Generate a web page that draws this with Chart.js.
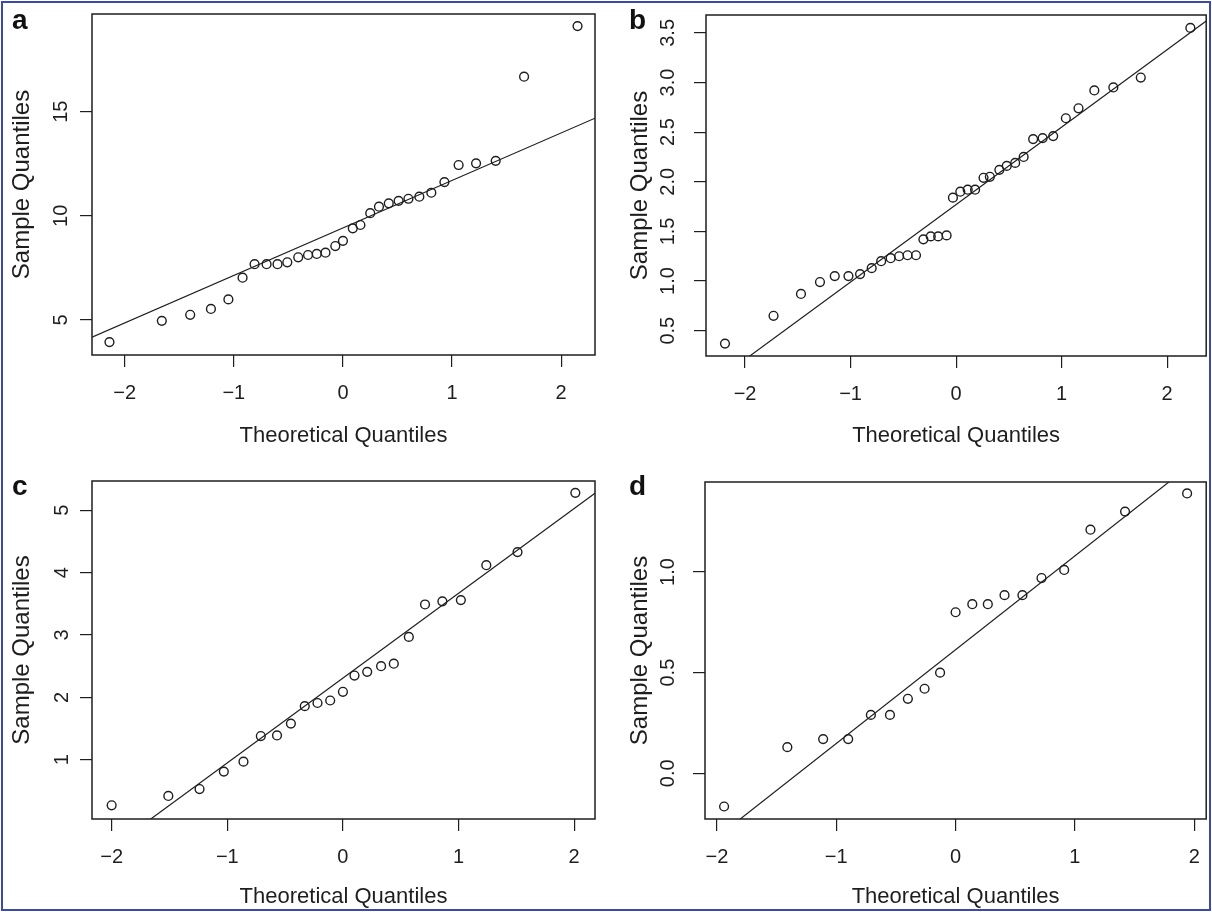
<!DOCTYPE html>
<html>
<head>
<meta charset="utf-8">
<script src="https://cdn.jsdelivr.net/npm/chart.js@4.4.0/dist/chart.umd.min.js"></script>
<style>
  body { margin: 0; background: #fff; }
  #fig { position: relative; width: 1212px; height: 914px; }
  #frame { position: absolute; left: 1px; top: 1px; width: 1206px; height: 906px; border: 2px solid #3a4aa8; }
  canvas { position: absolute; }
  .tag { position: absolute; font: bold 28px "Liberation Sans", Arial, sans-serif; color: #111; line-height: 1; }
</style>
</head>
<body>
<div id="fig">
  <canvas id="qa" width="606" height="457" style="left:0;top:0"></canvas>
  <canvas id="qb" width="606" height="457" style="left:606px;top:0"></canvas>
  <canvas id="qc" width="606" height="457" style="left:0;top:457px"></canvas>
  <canvas id="qd" width="606" height="457" style="left:606px;top:457px"></canvas>
  <div id="frame"></div>
  <div class="tag" style="left:12px;top:6px">a</div>
  <div class="tag" style="left:629px;top:6px">b</div>
  <div class="tag" style="left:12px;top:472px">c</div>
  <div class="tag" style="left:629px;top:472px">d</div>
</div>
<script>
// Panel a
const aX = [-2.14, -1.66, -1.40, -1.21, -1.05, -0.92, -0.81, -0.70, -0.60, -0.51, -0.41, -0.32, -0.24, -0.16, -0.07, 0.00,
  0.09, 0.16, 0.25, 0.33, 0.42, 0.51, 0.60, 0.70, 0.81, 0.93, 1.06, 1.22, 1.40, 1.66, 2.15];
const aY = [3.94, 4.96, 5.25, 5.53, 5.99, 7.03, 7.68, 7.68, 7.68, 7.77, 8.01, 8.12, 8.17, 8.23, 8.55, 8.80,
  9.40, 9.56, 10.13, 10.44, 10.60, 10.72, 10.82, 10.92, 11.11, 11.62, 12.44, 12.52, 12.64, 16.68, 19.11];

// Panel b
const bX = [-2.19, -1.73, -1.47, -1.29, -1.15, -1.02, -0.91, -0.80, -0.71, -0.62, -0.54, -0.46, -0.38, -0.31, -0.24, -0.17, -0.09, -0.03,
  0.04, 0.11, 0.18, 0.26, 0.32, 0.41, 0.48, 0.56, 0.64, 0.73, 0.82, 0.92, 1.04, 1.16, 1.31, 1.49, 1.75, 2.22];
const bY = [0.37, 0.65, 0.87, 0.99, 1.05, 1.05, 1.07, 1.13, 1.20, 1.23, 1.25, 1.26, 1.26, 1.42, 1.45, 1.45, 1.46, 1.84,
  1.90, 1.92, 1.92, 2.04, 2.05, 2.12, 2.16, 2.19, 2.25, 2.43, 2.44, 2.46, 2.64, 2.74, 2.92, 2.95, 3.05, 3.55];

// Panel c
const cX = [-2.00, -1.51, -1.24, -1.03, -0.86, -0.71, -0.57, -0.45, -0.33, -0.22, -0.11, 0.00,
  0.10, 0.21, 0.33, 0.44, 0.57, 0.71, 0.86, 1.02, 1.24, 1.51, 2.01];
const cY = [0.27, 0.42, 0.53, 0.81, 0.97, 1.38, 1.39, 1.58, 1.86, 1.91, 1.95, 2.09,
  2.35, 2.41, 2.50, 2.54, 2.97, 3.49, 3.54, 3.56, 4.12, 4.33, 5.28];

// Panel d
const dX = [-1.94, -1.41, -1.11, -0.90, -0.71, -0.55, -0.40, -0.26, -0.13, 0.00,
  0.14, 0.27, 0.41, 0.56, 0.72, 0.91, 1.13, 1.42, 1.94];
const dY = [-0.165, 0.13, 0.17, 0.17, 0.29, 0.29, 0.37, 0.42, 0.50, 0.80,
  0.84, 0.84, 0.885, 0.885, 0.97, 1.01, 1.21, 1.30, 1.39];

// qqline for a, b, c, d
const lineIntercept = [9.42, 1.77, 2.31, 0.614];
const lineSlope = [2.28, 0.78, 1.36, 0.466];

// tick labels
const xTicks = [-2, -1, 0, 1, 2];
const yTicksA = [5, 10, 15];
const yTicksB = [0.5, 1.0, 1.5, 2.0, 2.5, 3.0, 3.5];
const yTicksC = [1, 2, 3, 4, 5];
const yTicksD = [0.0, 0.5, 1.0];

const FONT = '"Liberation Sans", Arial, Helvetica, sans-serif';
const INK = '#1e1e1e';

const boxPlugin = {
  id: 'box',
  afterDatasetsDraw(chart) {
    const { ctx, chartArea: a } = chart;
    ctx.save();
    ctx.strokeStyle = INK;
    ctx.lineWidth = 1.5;
    ctx.strokeRect(a.left, a.top, a.right - a.left, a.bottom - a.top);
    ctx.restore();
  }
};

const minus = v => (v < 0 ? '\u2212' + Math.abs(v) : String(v));

function qqPanel(id, xs, ys, k, c) {
  const pts = xs.map((x, i) => ({ x, y: ys[i] }));
  const fit = [c.x[0], c.x[1]].map(x => ({ x, y: lineIntercept[k] + lineSlope[k] * x }));
  new Chart(document.getElementById(id), {
    type: 'scatter',
    data: {
      datasets: [
        { data: fit, showLine: true, borderColor: INK, borderWidth: 1.2, pointRadius: 0 },
        { data: pts, pointStyle: 'circle', pointRadius: 4.4, borderWidth: 1.4, borderColor: INK, backgroundColor: 'rgba(255,255,255,0)' }
      ]
    },
    options: {
      responsive: false,
      animation: false,
      devicePixelRatio: 1,
      layout: { padding: c.pad },
      plugins: { legend: { display: false }, tooltip: { enabled: false } },
      scales: {
        x: {
          type: 'linear', min: c.x[0], max: c.x[1],
          afterFit: s => { s.height = c.xh; s.paddingLeft = 0; s.paddingRight = 0; },
          afterBuildTicks: s => { s.ticks = xTicks.map(v => ({ value: v })); },
          grid: { drawOnChartArea: false, tickLength: 12, color: INK, lineWidth: 1.2 },
          border: { display: false },
          ticks: { autoSkip: false, maxRotation: 0, padding: 14, color: INK, font: { family: FONT, size: 20 }, callback: minus },
          title: { display: true, text: 'Theoretical Quantiles', color: INK, font: { family: FONT, size: 22 }, padding: { top: 0, bottom: c.xtp } }
        },
        y: {
          type: 'linear', min: c.y[0], max: c.y[1],
          afterFit: s => { s.width = c.yw; s.paddingTop = 0; s.paddingBottom = 0; },
          afterBuildTicks: s => { s.ticks = c.yt.map(v => ({ value: v })); },
          grid: { drawOnChartArea: false, tickLength: 12, color: INK, lineWidth: 1.2 },
          border: { display: false },
          ticks: { autoSkip: false, minRotation: 90, maxRotation: 90, crossAlign: 'center', padding: c.ytp, color: INK,
            font: { family: FONT, size: 20 }, callback: v => v.toFixed(c.dig) },
          title: { display: true, text: 'Sample Quantiles', color: INK, font: { family: FONT, size: 24 }, padding: { top: c.yttp, bottom: 0 } }
        }
      }
    },
    plugins: [boxPlugin]
  });
}

qqPanel('qa', aX, aY, 0, { x: [-2.30, 2.31], y: [3.32, 19.69], yt: yTicksA, dig: 0,
  pad: { left: 0, right: 11, top: 14, bottom: 0 }, yw: 92, xh: 102, ytp: 7, yttp: 7.6, xtp: 7.8 });
qqPanel('qb', bX, bY, 1, { x: [-2.37, 2.37], y: [0.245, 3.68], yt: yTicksB, dig: 1,
  pad: { left: 0, right: 5, top: 15, bottom: 0 }, yw: 100, xh: 101, ytp: 12, yttp: 19.6, xtp: 7.8 });
qqPanel('qc', cX, cY, 2, { x: [-2.17, 2.18], y: [0.05, 5.47], yt: yTicksC, dig: 0,
  pad: { left: 0, right: 11, top: 24, bottom: 0 }, yw: 92, xh: 95, ytp: 12, yttp: 7.6, xtp: 3.8 });
qqPanel('qd', dX, dY, 3, { x: [-2.10, 2.10], y: [-0.227, 1.447], yt: yTicksD, dig: 1,
  pad: { left: 0, right: 5, top: 25, bottom: 0 }, yw: 99, xh: 95, ytp: 11, yttp: 19.6, xtp: 3.8 });
</script>
</body>
</html>
